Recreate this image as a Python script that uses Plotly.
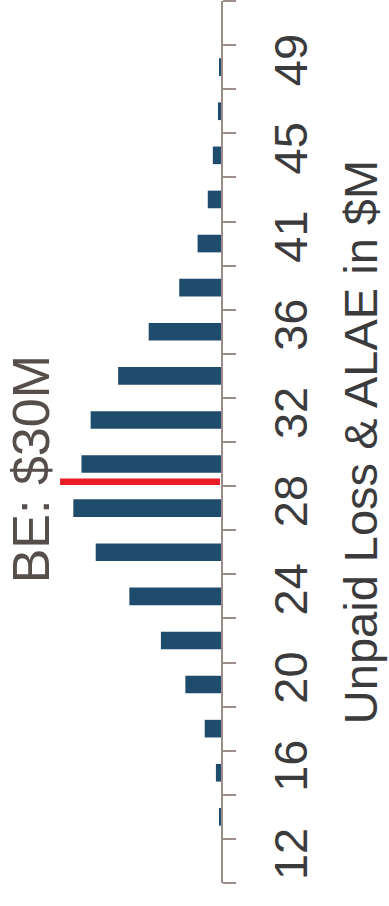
import plotly.graph_objects as go

# ---- data ----
bin_index = list(range(20))
bin_labels = ["12", "14", "16", "18", "20", "22", "24", "26", "28", "30",
              "32", "34", "36", "39", "41", "43", "45", "47", "49", "51"]
freq_pct = [0.0, 0.2, 0.5, 1.6, 3.5, 5.9, 9.0, 12.3, 14.5, 13.7,
            12.8, 10.1, 7.1, 4.1, 2.3, 1.3, 0.8, 0.3, 0.15, 0.0]
label_positions = [0, 2, 4, 6, 8, 10, 12, 14, 16, 18]
label_text = ["12", "16", "20", "24", "28", "32", "36", "41", "45", "49"]
boundaries = [i - 0.5 for i in range(21)]
be_label = "BE: $30M"
be_position = 8.6      # position of $30M best estimate on the bin axis
be_line_len = 15.8

FONT = "Arial, Liberation Sans, sans-serif"
AXIS_COLOR = "#9c8d8a"

fig = go.Figure()
fig.add_trace(go.Bar(
    x=freq_pct, y=bin_index, orientation="h",
    width=0.4, marker=dict(color="#1f4b6c", line=dict(width=0)),
    hoverinfo="skip", showlegend=False,
))

fig.add_shape(type="line", xref="x", yref="y",
              x0=0.1, x1=be_line_len, y0=be_position, y1=be_position,
              line=dict(color="#ec1c24", width=6.5))

fig.add_annotation(x=18.7, y=be_position + 0.27, xref="x", yref="y",
                   text=be_label, textangle=-90, showarrow=False,
                   font=dict(family=FONT, size=52, color="#564e4b"),
                   xanchor="center", yanchor="middle")

fig.update_layout(
    width=389, height=906,
    margin=dict(l=0, r=168, t=1, b=23),
    paper_bgcolor="white", plot_bgcolor="white",
    bargap=0.6,
    xaxis=dict(range=[21.7, 0], visible=False, fixedrange=True),
    yaxis=dict(
        range=[-0.5, 19.5], side="right",
        tickmode="array", tickvals=label_positions, ticktext=label_text,
        tickangle=-90, ticks="", showgrid=False, zeroline=False,
        showline=True, linecolor=AXIS_COLOR, linewidth=2,
        tickfont=dict(family=FONT, size=47, color="#3b3b3d"),
        ticklabelstandoff=28,
        minor=dict(tickmode="array", tickvals=boundaries, ticks="outside",
                   ticklen=13, tickwidth=2, tickcolor=AXIS_COLOR, showgrid=False),
        title=dict(text="Unpaid Loss & ALAE in $M",
                   font=dict(family=FONT, size=47, color="#3b3b3d"),
                   standoff=28),
        automargin=False,
    ),
)

fig.write_html("out.html")
